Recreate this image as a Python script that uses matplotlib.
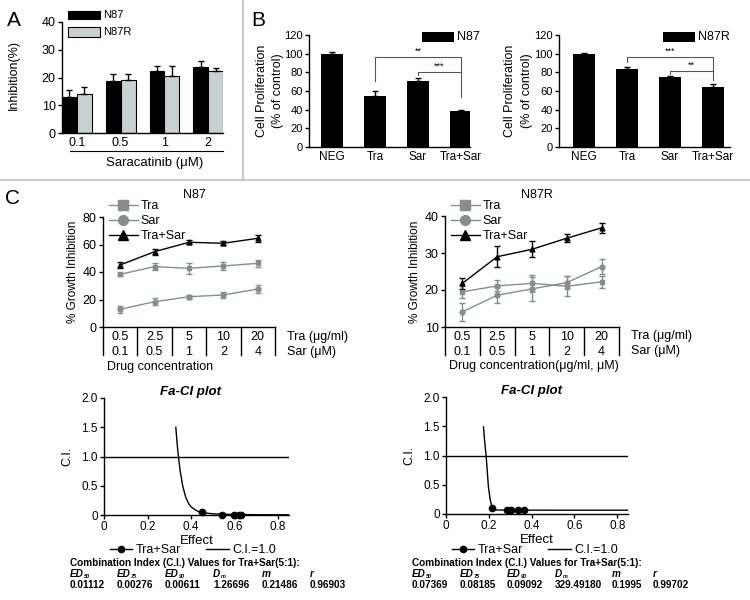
import matplotlib
matplotlib.use('Agg')
import matplotlib.pyplot as plt
from matplotlib.lines import Line2D
import numpy as np

plt.rcParams['font.family'] = ['Liberation Sans', 'DejaVu Sans']
plt.rcParams['font.size'] = 9
plt.rcParams['axes.linewidth'] = 1.0

# ---- data: panel A
sara_doses = ['0.1', '0.5', '1', '2']
a_n87 = [13.0, 18.7, 22.3, 23.8]
a_n87_err = [2.6, 2.4, 1.7, 2.1]
a_n87r = [14.1, 19.0, 20.7, 22.3]
a_n87r_err = [2.5, 2.1, 3.3, 1.2]

# ---- data: panel B
b_groups = ['NEG', 'Tra', 'Sar', 'Tra+Sar']
b_n87 = [99.6, 54.8, 70.6, 38.4]
b_n87_err = [2.2, 5.2, 3.0, 1.5]
b_n87r = [99.6, 83.5, 74.5, 64.0]
b_n87r_err = [1.6, 1.8, 1.8, 3.6]

# ---- data: panel C, growth inhibition
tra_conc = ['0.5', '2.5', '5', '10', '20']
sar_conc = ['0.1', '0.5', '1', '2', '4']
n87_tra = [38.3, 43.9, 42.7, 44.4, 46.3]
n87_tra_err = [1.2, 2.8, 3.9, 3.0, 2.7]
n87_sar = [12.9, 18.4, 22.0, 23.3, 27.6]
n87_sar_err = [2.7, 2.4, 1.4, 2.0, 2.8]
n87_combo = [45.1, 54.8, 61.6, 60.9, 64.5]
n87_combo_err = [2.2, 2.2, 1.5, 1.5, 2.5]

n87r_tra = [19.5, 21.1, 21.8, 21.0, 22.2]
n87r_tra_err = [1.6, 1.5, 2.3, 2.7, 1.7]
n87r_sar = [14.1, 18.6, 20.3, 22.0, 26.3]
n87r_sar_err = [2.5, 2.1, 3.3, 1.8, 2.0]
n87r_combo = [21.8, 29.0, 31.0, 34.0, 36.8]
n87r_combo_err = [1.5, 2.9, 2.2, 1.1, 1.3]

# ---- data: Fa-CI plots
n87_fa_curve = [0.330, 0.336, 0.342, 0.350, 0.362, 0.375, 0.388, 0.400, 0.419, 0.440, 0.500, 0.600, 0.700, 0.850]
n87_ci_curve = [1.50, 1.22, 1.00, 0.75, 0.49, 0.31, 0.20, 0.14, 0.09, 0.045, 0.02, 0.008, 0.005, 0.003]
n87_fa = [0.449, 0.541, 0.595, 0.618, 0.629]
n87_ci = [0.045, 0.008, 0.006, 0.006, 0.006]

n87r_fa_curve = [0.175, 0.181, 0.1875, 0.193, 0.198, 0.206, 0.212, 0.217, 0.225, 0.2375, 0.30, 0.50, 0.85]
n87r_ci_curve = [1.49, 1.22, 0.99, 0.72, 0.47, 0.25, 0.16, 0.11, 0.08, 0.068, 0.066, 0.065, 0.065]
n87r_fa = [0.214, 0.284, 0.305, 0.336, 0.366]
n87r_ci = [0.103, 0.063, 0.063, 0.063, 0.063]

ci_headers = ['ED', 'ED', 'ED', 'D', 'm', 'r']
ci_subs = ['50', '75', '90', 'm', '', '']
n87_ci_vals = ['0.01112', '0.00276', '0.00611', '1.26696', '0.21486', '0.96903']
n87r_ci_vals = ['0.07369', '0.08185', '0.09092', '329.49180', '0.1995', '0.99702']

W, H = 750, 600
fig = plt.figure(figsize=(7.5, 6), dpi=100)


def box(l, t, r, b):
    return [l / W, 1 - b / H, (r - l) / W, (b - t) / H]


def ftext(x, y, s, **kw):
    fig.text(x / W, 1 - y / H, s, **kw)


def clean(ax, size=9):
    ax.spines['top'].set_visible(False)
    ax.spines['right'].set_visible(False)
    ax.tick_params(length=3, width=1, pad=1.5, labelsize=size)


GRAY = '#878d8d'
LIGHT = '#c9d0d0'

# separators
fig.add_artist(Line2D([243 / W, 243 / W], [1, 1 - 180 / H], color='#c8c8c8', lw=1.5))
fig.add_artist(Line2D([0, 1], [1 - 180 / H, 1 - 180 / H], color='#c8c8c8', lw=1.5))

# ================= A
ax = fig.add_axes(box(62, 22, 223, 133))
x = np.arange(len(sara_doses))
ax.bar(x - 0.17, a_n87, 0.34, color='black', edgecolor='black', lw=0.8,
       yerr=[np.zeros(4), a_n87_err], capsize=2.5, error_kw=dict(lw=1, capthick=1))
ax.bar(x + 0.17, a_n87r, 0.34, color=LIGHT, edgecolor='black', lw=0.8,
       yerr=[np.zeros(4), a_n87r_err], capsize=2.5, error_kw=dict(lw=1, capthick=1))
ax.set_xlim(-0.34, 3.34)
ax.set_ylim(0, 40)
ax.set_yticks([0, 10, 20, 30, 40])
ax.set_xticks(x)
ax.set_xticklabels(sara_doses)
clean(ax)
ax.tick_params(axis='x', length=0, pad=3)
ax.plot([-0.16, 3.34], [-0.162, -0.162], transform=ax.get_xaxis_transform(), color='black',
        lw=0.8, clip_on=False)
ftext(155, 163, 'Saracatinib (μM)', ha='center', va='center', fontsize=9.5)
ftext(14, 75, 'Inhibition(%)', ha='center', va='center', rotation=90, fontsize=9)
ftext(7, 20, 'A', fontsize=15, va='center')
fig.add_artist(plt.Rectangle((68 / W, 1 - 18.5 / H), 32 / W, 7.5 / H, transform=fig.transFigure,
                             facecolor='black', edgecolor='black', lw=0.8))
fig.add_artist(plt.Rectangle((68 / W, 1 - 36.5 / H), 32 / W, 9 / H, transform=fig.transFigure,
                             facecolor=LIGHT, edgecolor='black', lw=0.8))
ftext(103, 15, 'N87', va='center', fontsize=8)
ftext(103, 32, 'N87R', va='center', fontsize=8)


# ================= B
def bracket(ax, x1, x2, y, d1, d2, label):
    ax.plot([x1, x1, x2, x2], [d1, y, y, d2], color='#555555', lw=0.8)
    ax.text((x1 + x2) / 2, y + 1.5, label, ha='center', va='bottom', fontsize=6.5)


def panel_b(rect, vals, errs, xl, brk):
    ax = fig.add_axes(box(*rect))
    xx = np.arange(len(b_groups))
    ax.bar(xx, vals, 0.51, color='black', yerr=[np.zeros(4), errs], capsize=2.5,
           error_kw=dict(lw=1, capthick=1))
    ax.set_xlim(*xl)
    ax.set_ylim(0, 120)
    ax.set_yticks(range(0, 121, 20))
    ax.set_xticks(xx)
    ax.set_xticklabels(b_groups)
    clean(ax, 8)
    ax.tick_params(axis='x', length=0, pad=3, labelsize=8.5)
    for b in brk:
        bracket(ax, *b)
    return ax


panel_b((309, 35, 470, 147), b_n87, b_n87_err, (-0.53, 3.21),
        [(1, 3, 96, 70.6, 53.8, '**'), (2, 3, 80.6, 77, 80.6, '***')])
panel_b((559, 35, 730, 147), b_n87r, b_n87r_err, (-0.58, 3.4),
        [(1, 3, 96, 91.4, 71.7, '***'), (2, 3, 81.7, 78, 81.7, '**')])
ftext(262, 91, 'Cell Proliferation', rotation=90, ha='center', va='center', fontsize=9)
ftext(278, 91, '(% of control)', rotation=90, ha='center', va='center', fontsize=9)
ftext(510, 91, 'Cell Proliferation', rotation=90, ha='center', va='center', fontsize=9)
ftext(527, 91, '(% of control)', rotation=90, ha='center', va='center', fontsize=9)
ftext(251, 20, 'B', fontsize=15, va='center')
fig.add_artist(plt.Rectangle((422 / W, 1 - 42 / H), 32 / W, 10 / H, transform=fig.transFigure,
                             facecolor='black'))
ftext(457, 37, 'N87', va='center', fontsize=9)
fig.add_artist(plt.Rectangle((663 / W, 1 - 42 / H), 32 / W, 10 / H, transform=fig.transFigure,
                             facecolor='black'))
ftext(698, 37, 'N87R', va='center', fontsize=9)


# ================= C top
def panel_c(rect, ylim, yticks, tra, tra_e, sar, sar_e, combo, combo_e, title, xlabel, leg_xy):
    l, t, r, b = rect
    ax = fig.add_axes(box(*rect))
    xx = np.arange(5) + 0.5
    ax.errorbar(xx, tra, yerr=tra_e, fmt='-s', color=GRAY, ms=3.5, lw=1, capsize=2, elinewidth=1)
    ax.errorbar(xx, sar, yerr=sar_e, fmt='-o', color=GRAY, ms=3.5, lw=1, capsize=2, elinewidth=1)
    ax.errorbar(xx, combo, yerr=combo_e, fmt='-^', color='black', ms=3.5, lw=1, capsize=2,
                elinewidth=1)
    ax.set_xlim(0, 5)
    ax.set_ylim(*ylim)
    ax.set_yticks(yticks)
    ax.set_xticks([])
    clean(ax)
    hpx = b - t
    tr = ax.get_xaxis_transform()
    for i in range(6):
        ax.plot([i, i], [0, -28 / hpx], transform=tr, color='black', lw=1, clip_on=False)
    for i in range(5):
        ax.text(i + 0.5, -10 / hpx, tra_conc[i], transform=tr, ha='center', va='center')
        ax.text(i + 0.5, -25 / hpx, sar_conc[i], transform=tr, ha='center', va='center')
    ftext(r + 12, t + 120, 'Tra (μg/ml)', va='center')
    ftext(r + 12, t + 135, 'Sar (μM)', va='center')
    ftext(l + 4, t + 150, xlabel, va='center')
    ftext((l + r) / 2 + 5, 195, title, ha='center', va='center')
    ftext(l - 30, (t + b) / 2, '% Growth Inhibition', rotation=90, ha='center', va='center',
          fontsize=8.5)
    handles = [Line2D([], [], color=GRAY, marker='s', ms=7, lw=1),
               Line2D([], [], color=GRAY, marker='o', ms=7, lw=1),
               Line2D([], [], color='black', marker='^', ms=7, lw=1)]
    ax.legend(handles, ['Tra', 'Sar', 'Tra+Sar'], loc='upper left',
              bbox_to_anchor=(leg_xy[0] / W, 1 - leg_xy[1] / H), bbox_transform=fig.transFigure,
              frameon=False, borderpad=0, borderaxespad=0, handlelength=2.3, handletextpad=0.2,
              labelspacing=0.25, fontsize=9)
    return ax


panel_c((103, 217, 275, 327), (0, 80), [0, 20, 40, 60, 80], n87_tra, n87_tra_err, n87_sar,
        n87_sar_err, n87_combo, n87_combo_err, 'N87', 'Drug concentration', (109, 200))
panel_c((445, 216, 619, 327), (10, 40), [10, 20, 30, 40], n87r_tra, n87r_tra_err, n87r_sar,
        n87r_sar_err, n87r_combo, n87r_combo_err, 'N87R', 'Drug concentration(μg/ml, μM)',
        (451, 200))
ftext(5, 199, 'C', fontsize=15, va='center')


# ================= C bottom: Fa-CI
def fa_ci(rect, fa_c, ci_c, fa, ci, vals, leg_x, tab_x):
    l, t, r, b = rect
    ax = fig.add_axes(box(*rect))
    ax.plot(fa_c, ci_c, color='black', lw=1)
    ax.plot(fa, ci, 'o', color='black', ms=4.5, clip_on=False)
    ax.axhline(1.0, color='black', lw=1)
    ax.set_xlim(0, 0.85)
    ax.set_ylim(0, 2.0)
    ax.set_xticks([0, 0.2, 0.4, 0.6, 0.8])
    ax.set_xticklabels(['0', '0.2', '0.4', '0.6', '0.8'])
    ax.set_yticks([0, 0.5, 1.0, 1.5, 2.0])
    ax.set_yticklabels(['0', '0.5', '1.0', '1.5', '2.0'])
    clean(ax, 8.5)
    ax.set_title('Fa-CI plot', fontsize=9.5, fontweight='bold', style='italic', pad=1,
                 x=0.47)
    ax.set_xlabel('Effect', fontsize=9.5, labelpad=1)
    ax.set_ylabel('C.I.', fontsize=9, labelpad=6)
    handles = [Line2D([], [], color='black', marker='o', ms=4.5, lw=1),
               Line2D([], [], color='black', lw=1)]
    ax.legend(handles, ['Tra+Sar', 'C.I.=1.0'], loc='center', ncol=2,
              bbox_to_anchor=(leg_x / W, 1 - 550 / H), bbox_transform=fig.transFigure,
              frameon=False, borderpad=0, handlelength=1.8, handletextpad=0.3,
              columnspacing=2.0, fontsize=9)
    ftext(tab_x[0], 563, 'Combination Index (C.I.) Values for Tra+Sar(5:1):', va='center',
          fontsize=7.2, fontweight='bold')
    for i in range(6):
        ftext(tab_x[i], 574, ci_headers[i], va='center', fontsize=7.2, fontweight='bold',
              style='italic')
        if ci_subs[i]:
            off = 14 if ci_headers[i] == 'ED' else 8
            ftext(tab_x[i] + off, 576.5, ci_subs[i], va='center', fontsize=4, fontweight='bold',
                  style='italic')
        ftext(tab_x[i], 585, vals[i], va='center', fontsize=7.2, fontweight='bold')
    return ax


fa_ci((104, 398, 289, 515), n87_fa_curve, n87_ci_curve, n87_fa, n87_ci, n87_ci_vals, 193,
      [70, 117, 165, 213, 262, 310])
fa_ci((446, 397, 628, 514), n87r_fa_curve, n87r_ci_curve, n87r_fa, n87r_ci, n87r_ci_vals, 535,
      [412, 460, 507, 555, 612, 653])

fig.savefig('out.png', dpi=100)
